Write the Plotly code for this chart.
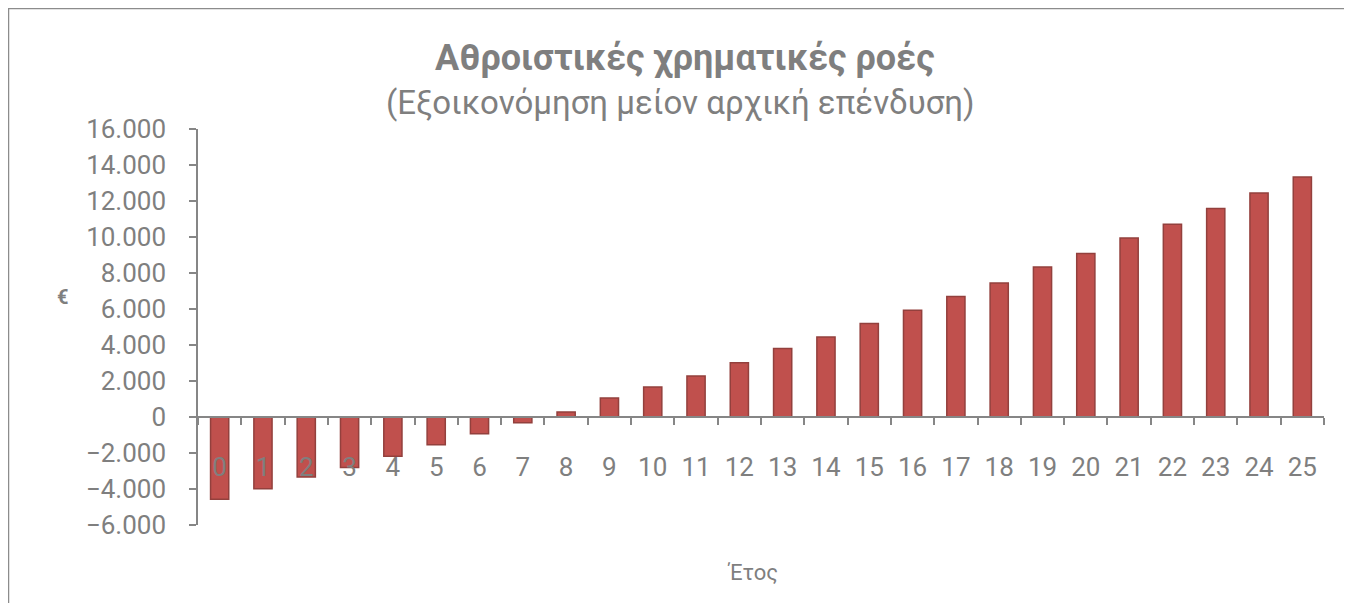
import plotly.graph_objects as go

years = [str(i) for i in range(26)]
cumulative = [-4570, -3980, -3330, -2810, -2180, -1540, -925, -315, 280, 1055,
              1667, 2278, 3020, 3800, 4444, 5190, 5930, 6700, 7444, 8333,
              9078, 9944, 10706, 11578, 12444, 13333]
y_ticks = [-6000, -4000, -2000, 0, 2000, 4000, 6000, 8000, 10000, 12000, 14000, 16000]

title_text = "Αθροιστικές χρηματικές ροές"
subtitle_text = "(Εξοικονόμηση μείον αρχική επένδυση)"
x_title = "Έτος"
y_title = "€"

W, H = 1352, 603
OFF = 8  # page body margin
# target pixel positions in the screenshot
L, R, T, B = 198, 1324, 129, 525
FONT = "Roboto"
GRAY = "#7f7f7f"
AXIS = "#868686"


def px(x):
    return (x - L) / (R - L)


def py(y):
    return (B - y) / (B - T)


fig = go.Figure()
fig.add_trace(go.Bar(
    x=years, y=cumulative, width=0.42,
    marker=dict(color="#C0504D", line=dict(color="#93403D", width=1.5)),
    showlegend=False,
))

ymin, ymax = y_ticks[0], y_ticks[-1]
fig.update_layout(
    width=W, height=H,
    margin=dict(l=L - OFF, r=W - (R - OFF), t=T - OFF, b=H - (B - OFF)),
    paper_bgcolor="white", plot_bgcolor="white",
    separators=",.",
    font=dict(family=FONT, color=GRAY, size=26),
    xaxis=dict(
        type="category", range=[-0.5, 25.5],
        anchor="free", position=(0 - ymin) / (ymax - ymin),
        showline=True, linecolor=AXIS, linewidth=1.5,
        ticks="outside", ticklen=7, tickcolor=AXIS, tickwidth=1.5,
        tickson="boundaries", showgrid=False, zeroline=False,
        ticklabelstandoff=27,
        tickfont=dict(family=FONT, size=26, color=GRAY),
    ),
    yaxis=dict(
        range=[ymin, ymax], tickvals=y_ticks, tickformat=",d",
        showline=True, linecolor=AXIS, linewidth=1.5,
        ticks="outside", ticklen=7, tickcolor=AXIS, tickwidth=1.5,
        showgrid=False, zeroline=False,
        ticklabelstandoff=18,
        tickfont=dict(family=FONT, size=26, color=GRAY),
    ),
)

ann = dict(xref="paper", yref="paper", showarrow=False,
           xanchor="center", yanchor="middle")
fig.add_annotation(text="<b>" + title_text + "</b>", x=px(685), y=py(58),
                   font=dict(family=FONT, size=36, color=GRAY), **ann)
fig.add_annotation(text=subtitle_text, x=px(680), y=py(103),
                   font=dict(family=FONT, size=33, color=GRAY), **ann)
fig.add_annotation(text=x_title, x=px(752), y=py(572),
                   font=dict(family=FONT, size=22, color=GRAY), **ann)
fig.add_annotation(text="<b>" + y_title + "</b>", x=px(62), y=py(297),
                   font=dict(family=FONT, size=20, color=GRAY), **ann)

fig.add_shape(type="rect", xref="paper", yref="paper",
              x0=px(8), x1=px(1370), y0=py(8), y1=py(620),
              line=dict(color="#8c8c8c", width=2.5), layer="below")

fig.write_html("out.html")
